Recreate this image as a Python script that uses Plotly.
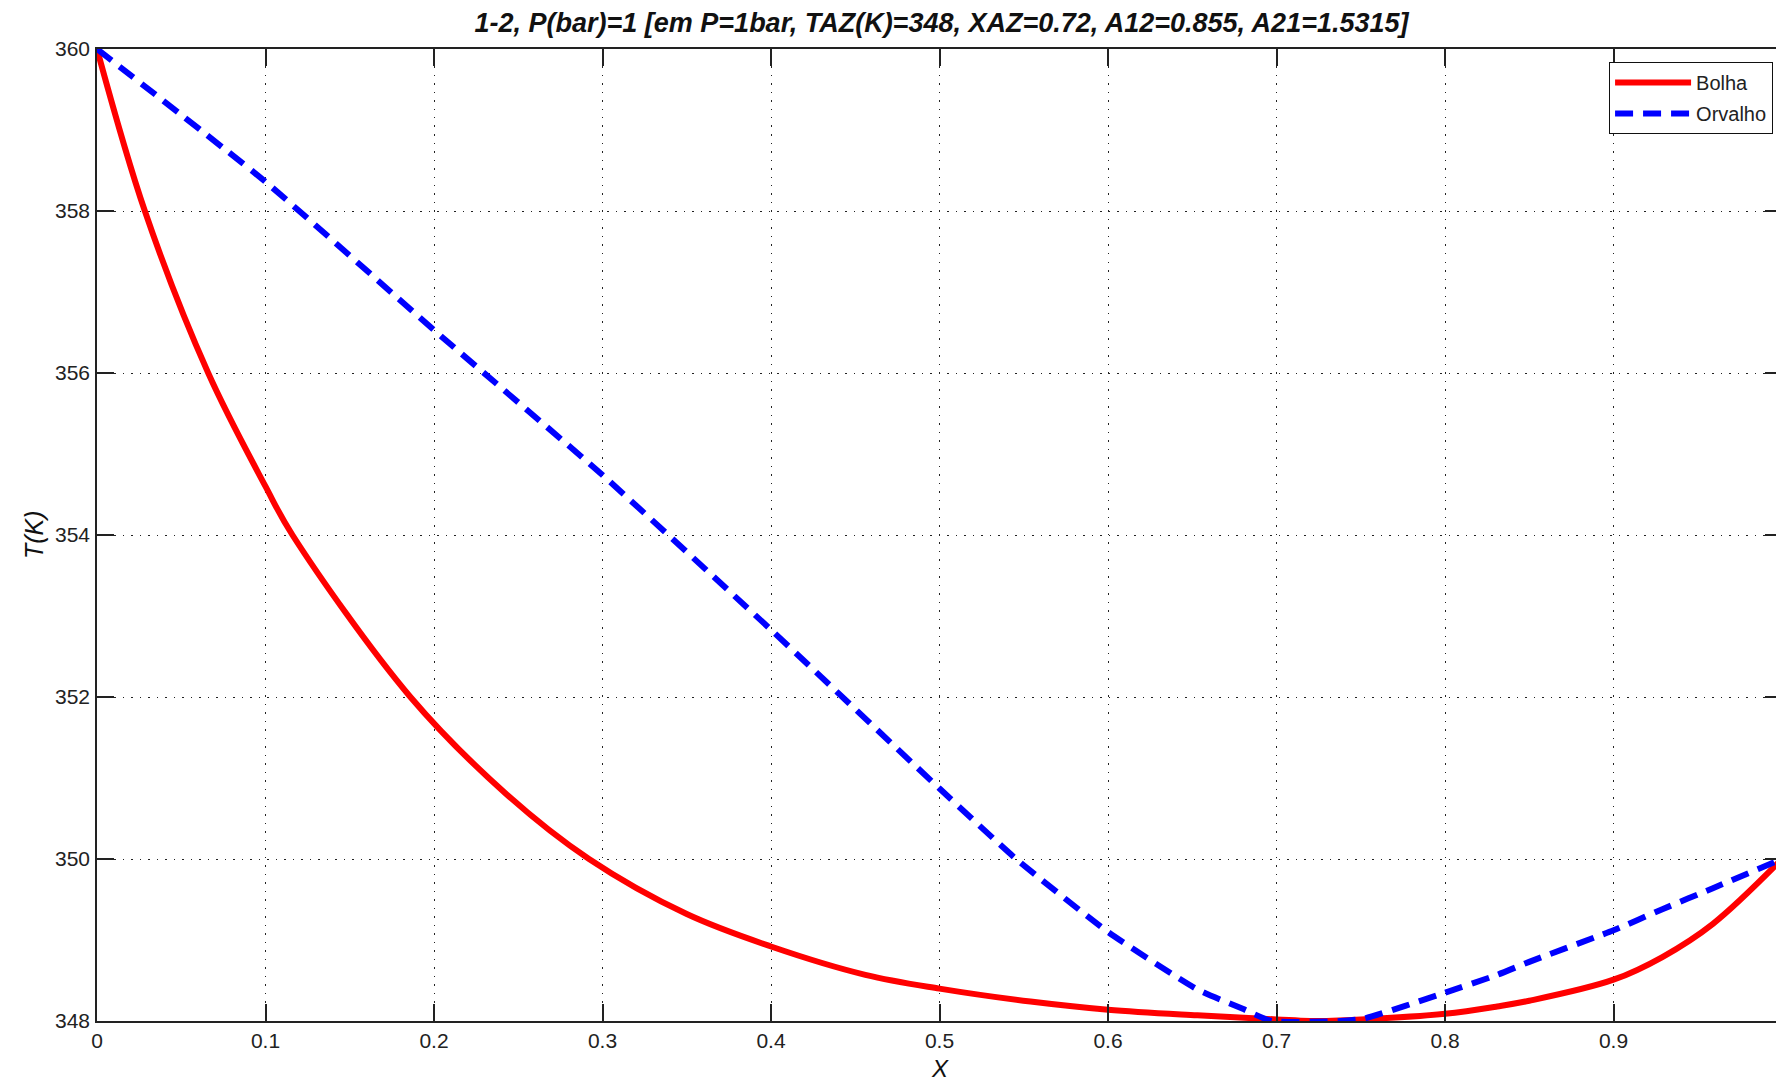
import plotly.graph_objects as go

# Bubble curve (Bolha): liquid composition x vs T(K)
bolha_x = [0, 0.0284, 0.066, 0.1, 0.116, 0.186, 0.243, 0.292, 0.35, 0.4, 0.456,
           0.5, 0.554, 0.6, 0.653, 0.7, 0.72, 0.75, 0.8, 0.831, 0.85, 0.9, 0.929, 0.959, 1.0]
bolha_T = [360, 358, 356, 354.6, 354, 352, 350.8, 350, 349.32, 348.92, 348.57,
           348.40, 348.24, 348.14, 348.07, 348.02, 348.0, 348.02, 348.09, 348.18, 348.25,
           348.51, 348.79, 349.2, 350.0]

# Dew curve (Orvalho)
orvalho_x = [0, 0.1, 0.2, 0.3, 0.4, 0.5, 0.5455, 0.6, 0.653, 0.68, 0.697, 0.738, 0.752,
             0.8, 0.831, 0.85, 0.9, 0.929, 0.959, 1.0]
orvalho_T = [360, 358.36, 356.53, 354.74, 352.83, 350.87, 350, 349.1, 348.39, 348.15, 348.0,
             348.0, 348.03, 348.35, 348.57, 348.73, 349.12, 349.38, 349.64, 350]

x_ticks = [0, 0.1, 0.2, 0.3, 0.4, 0.5, 0.6, 0.7, 0.8, 0.9, 1]
x_ticklabels = ["0", "0.1", "0.2", "0.3", "0.4", "0.5", "0.6", "0.7", "0.8", "0.9", "1"]
y_ticks = [348, 350, 352, 354, 356, 358, 360]

title_text = "1-2, P(bar)=1 [em P=1bar, TAZ(K)=348, XAZ=0.72, A12=0.855, A21=1.5315]"

FONT = "Liberation Sans"

fig = go.Figure()
fig.add_trace(go.Scatter(
    x=bolha_x, y=bolha_T, mode="lines", name="Bolha",
    line=dict(color="#FF0000", width=6, shape="spline", smoothing=1.0),
    legendgroup="a",
))
fig.add_trace(go.Scatter(
    x=orvalho_x, y=orvalho_T, mode="lines", name="Orvalho",
    line=dict(color="#0000FF", width=6, dash="18px,10px", shape="spline", smoothing=0.5),
    legendgroup="b",
))

axis_common = dict(
    showline=True, linecolor="#222222", linewidth=1.5, mirror="ticks",
    ticks="inside", ticklen=17, tickwidth=1.5, tickcolor="#222222",
    showgrid=True, gridcolor="#222222", gridwidth=1, griddash="1.5px,7px",
    zeroline=False,
    tickfont=dict(family=FONT, size=21, color="#222222"),
)

fig.update_xaxes(range=[0, 1], tickvals=x_ticks, ticktext=x_ticklabels,
                 ticklabelstandoff=0, **axis_common)
fig.update_yaxes(range=[348, 360], tickvals=y_ticks, ticklabelstandoff=1, **axis_common)

# page body has an 8px margin, so the figure is sized/offset to compensate
W, H = 1776, 1077
fig.update_layout(
    width=W, height=H,
    margin=dict(l=89, r=0, t=41, b=64),
    paper_bgcolor="white", plot_bgcolor="white",
    showlegend=True,
    legend=dict(
        x=0.9947, y=0.9865, xanchor="right", yanchor="top",
        bgcolor="white", bordercolor="#111111", borderwidth=1,
        font=dict(family=FONT, size=20, color="#222222"),
        itemwidth=76, tracegroupgap=2,
    ),
    title=dict(
        text="<b><i>" + title_text + "</i></b>",
        x=(89 + 1778) / 2 / W, xanchor="center",
        y=1 - 15 / H, yanchor="middle", yref="container",
        font=dict(family=FONT, size=27, color="#111111"),
    ),
    annotations=[
        dict(text="<i>X</i>", xref="paper", yref="paper", x=0.5, y=0,
             xanchor="center", yanchor="middle", yshift=-47, showarrow=False,
             font=dict(family=FONT, size=24, color="#111111")),
        dict(text="<i>T(K)</i>", xref="paper", yref="paper", x=0, y=(1021 - 535) / 972,
             xanchor="center", yanchor="middle", xshift=-63, textangle=-90, showarrow=False,
             font=dict(family=FONT, size=25, color="#111111")),
    ],
)

fig.write_html("out.html")
